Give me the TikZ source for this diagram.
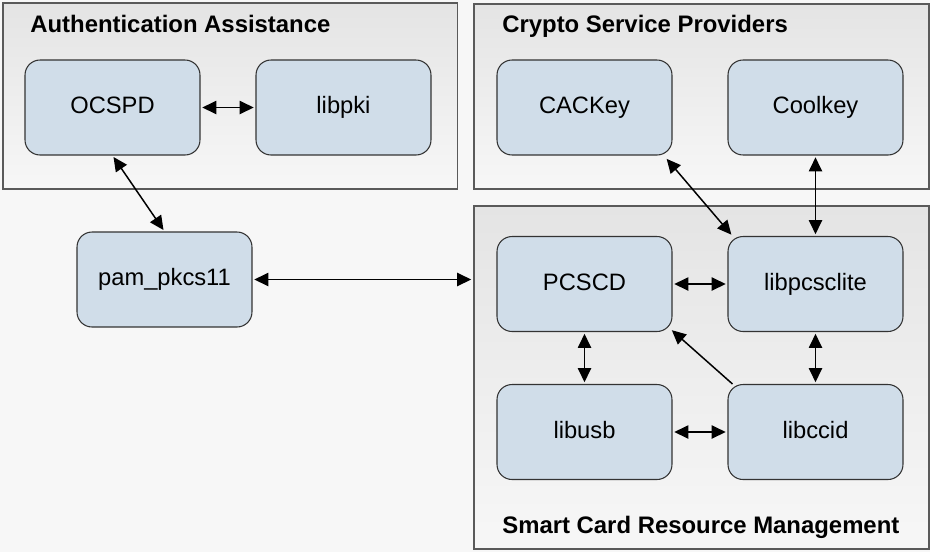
\documentclass[tikz,border=0pt]{standalone}
\usepackage{fontspec}
\setmainfont{Liberation Sans}
\usetikzlibrary{arrows.meta}
\definecolor{bg}{HTML}{F7F7F7}
\definecolor{grpA}{HTML}{E4E4E4}
\definecolor{grpB}{HTML}{F7F7F7}
\definecolor{grpline}{HTML}{5A5A5A}
\definecolor{boxfill}{HTML}{D0DDE9}
\definecolor{boxline}{HTML}{333333}
\begin{document}
\begin{tikzpicture}[x=0.02cm,y=-0.02cm,
  group/.style={draw=grpline, line width=0.9pt, top color=grpA, bottom color=grpB,
    inner sep=0pt, anchor=north west, minimum width=9.1cm},
  title/.style={font=\bfseries\fontsize{13.6}{16}\selectfont, anchor=base west, inner sep=0pt},
  compbox/.style={draw=boxline, line width=0.6pt, fill=boxfill, rounded corners=0.3cm,
    minimum width=3.5cm, minimum height=1.9cm, inner sep=0pt,
    font=\fontsize{13.5}{16}\selectfont, text height=0.72em, text depth=0pt},
  biarr/.style={{Triangle[length=8pt,width=7.5pt]}-{Triangle[length=8pt,width=7.5pt]},
    line width=0.85pt, shorten <=1pt, shorten >=1pt},
  onearr/.style={-{Triangle[length=8pt,width=7.5pt]}, line width=0.85pt, shorten >=1pt}]
\fill[bg] (0,0) rectangle (930,552);
\useasboundingbox (0,0) rectangle (930,552);
% groups
\node[group, minimum height=3.72cm] (auth) at (2,2) {};
\node[group, minimum height=3.7cm] (csp) at (473,3) {};
\node[group, minimum height=6.86cm] (scrm) at (473,205) {};
\node[title] (tauth) at (30,32) {Authentication Assistance};
\node[title] (tcsp) at (502,32) {Crypto Service Providers};
\node[title] (tscrm) at (502,533) {Smart Card Resource Management};
% components
\node[compbox] (ocspd) at (112.5,107.5) {OCSPD};
\node[compbox] (libpki) at (343.5,107.5) {libpki};
\node[compbox] (pam) at (164.5,279.5) {pam\_pkcs11};
\node[compbox] (cackey) at (584.5,107.5) {CACKey};
\node[compbox] (coolkey) at (815.5,107.5) {Coolkey};
\node[compbox] (pcscd) at (584.5,284) {PCSCD};
\node[compbox] (libpcsclite) at (815.5,284) {libpcsclite};
\node[compbox] (libusb) at (584.5,432) {libusb};
\node[compbox] (libccid) at (815.5,432) {libccid};
% connectors
\draw[biarr] (ocspd) -- (libpki);
\draw[biarr] (ocspd.south) -- (pam.north);
\draw[biarr] (pam.east) -- (pam.east -| scrm.west);
\draw[biarr] ([xshift=-0.14cm,yshift=-0.04cm]cackey.south east) -- ([xshift=0.1cm]libpcsclite.north west);
\draw[biarr] (coolkey) -- (libpcsclite);
\draw[biarr] (pcscd) -- (libpcsclite);
\draw[biarr] (pcscd) -- (libusb);
\draw[biarr] (libpcsclite) -- (libccid);
\draw[biarr] (libusb) -- (libccid);
\draw[onearr] ([xshift=0.1cm]libccid.north west) -- ([xshift=-0.04cm,yshift=0.06cm]pcscd.south east);
\end{tikzpicture}
\end{document}
